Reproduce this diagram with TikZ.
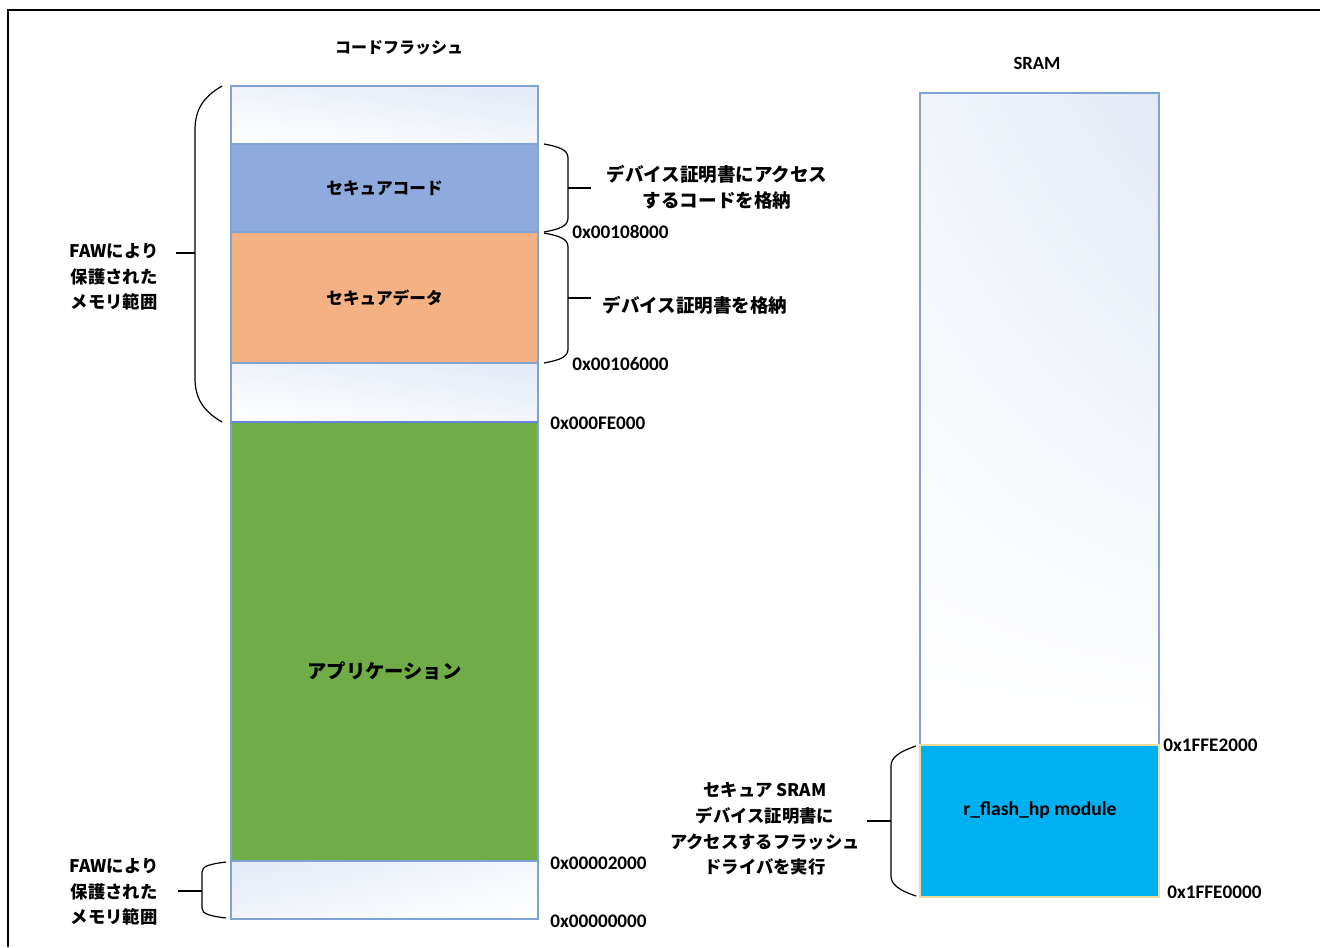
\documentclass[tikz,border=0pt]{standalone}
\usepackage{fontspec}
\usetikzlibrary{shadings}
\setmainfont{Carlito}
\newfontfamily\jp{Noto Sans CJK JP}
\definecolor{segb}{HTML}{7FA3D3}
\definecolor{shd}{HTML}{E3EAF6}
\definecolor{cblue}{HTML}{8FAADC}
\definecolor{corange}{HTML}{F4B183}
\definecolor{cgreen}{HTML}{70AD47}
\definecolor{ccyan}{HTML}{00B0F0}
\definecolor{cyb}{HTML}{EEDC9A}
\begin{document}
\begin{tikzpicture}[x=0.75pt,y=-0.75pt,
  seg/.style={draw=segb, line width=0.8pt},
  wseg/.style={upper left=shd!60!white, upper right=shd, lower left=white, lower right=shd!45!white},
  lbl/.style={font=\jp\bfseries\fontsize{13}{19.2}\selectfont, align=center, inner sep=0pt},
  rlbl/.style={font=\jp\bfseries\fontsize{13.9}{19.2}\selectfont, align=center, inner sep=0pt},
  boxlbl/.style={font=\jp\bfseries\fontsize{12.5}{15}\selectfont, inner sep=0pt},
  addr/.style={font=\bfseries\fontsize{14.4}{16}\selectfont, anchor=west, inner sep=0pt},
  brc/.style={line width=0.9pt, black},
  tick/.style={line width=0.9pt, black}]
\useasboundingbox (0,0) rectangle (1320,947);
\draw[line width=1.6pt] (8,947) -- (8,10) -- (1320,10);

% titles
\node[boxlbl, font=\jp\bfseries\fontsize{12}{14}\selectfont] (t1) at (399,48) {コードフラッシュ};
\node[font=\bfseries\fontsize{14}{16}\selectfont, inner sep=0pt] (t2) at (1037,63) {SRAM};

% flash column
\shade[wseg] (231,86) rectangle (538,144);
\draw[seg] (231,86) rectangle (538,144);
\filldraw[seg, fill=cblue] (231,144) rectangle (538,232);
\filldraw[seg, fill=corange] (231,232) rectangle (538,363);
\shade[wseg] (231,363) rectangle (538,422);
\draw[seg] (231,363) rectangle (538,422);
\filldraw[seg, fill=cgreen] (231,422) rectangle (538,861);
\draw[segb!80!blue, line width=1.2pt] (231,422) -- (538,422);
\shade[upper left=shd, upper right=shd!40!white, lower left=shd!50!white, lower right=white] (231,861) rectangle (538,919);
\draw[seg] (231,861) rectangle (538,919);

\node[boxlbl] (sc) at (384.5,188) {セキュアコード};
\node[boxlbl] (sd) at (384.5,298) {セキュアデータ};
\node[boxlbl, font=\jp\bfseries\fontsize{14.5}{16}\selectfont] (app) at (384.5,671) {アプリケーション};

% SRAM column
\shade[upper left=shd!50!white, upper right=shd, lower left=white, lower right=white] (920,93) rectangle (1159,745);
\draw[seg] (920,745) -- (920,93) -- (1159,93) -- (1159,745);
\filldraw[draw=cyb, line width=0.8pt, fill=ccyan] (920,745) rectangle (1159,897);
\node[font=\bfseries\fontsize{14.7}{16}\selectfont, inner sep=0pt] (mod) at (1040,810) {r\_flash\_hp module};

% addresses
\node[addr] (a1) at (572,232) {0x00108000};
\node[addr] (a2) at (572,364) {0x00106000};
\node[addr] (a3) at (550,423) {0x000FE000};
\node[addr] (a4) at (550,863) {0x00002000};
\node[addr] (a5) at (550,921) {0x00000000};
\node[addr] (a6) at (1163,745) {0x1FFE2000};
\node[addr] (a7) at (1167,892) {0x1FFE0000};

% big left brace
\draw[brc] (222,86) .. controls (203,97) and (195,110) .. (195,130) -- (195,378) .. controls (195,398) and (203,411) .. (222,422);
\coordinate (b1) at (195,253);
\node[lbl, anchor=north] (l1) at (114,243) {{\bfseries FAW}により\\保護された\\メモリ範囲};
\draw[tick] (b1) -- (176,253);

% upper right brace
\draw[brc] (544,144) .. controls (560,147) and (568,150) .. (568,158) -- (568,218) .. controls (568,226) and (560,229) .. (544,232);
\coordinate (b2) at (568,188);
\node[rlbl] (l2) at (717,187) {デバイス証明書にアクセス\\するコードを格納};
\draw[tick] (b2) -- (591,188);

% second right brace
\draw[brc] (544,233) .. controls (560,236) and (568,239) .. (568,247) -- (568,349) .. controls (568,357) and (560,360) .. (544,363);
\coordinate (b3) at (568,298);
\node[rlbl] (l3) at (695,305) {デバイス証明書を格納};
\draw[tick] (b3) -- (591,298);

% bottom left brace
\draw[brc] (226,862) .. controls (210,864) and (202,866) .. (202,872) -- (202,908) .. controls (202,914) and (210,916) .. (226,918);
\coordinate (b4) at (202,891);
\node[lbl, anchor=north] (l4) at (114,858) {{\bfseries FAW}により\\保護された\\メモリ範囲};
\draw[tick] (b4) -- (178,891);

% SRAM brace
\draw[brc] (916,746) .. controls (898,752) and (891,758) .. (891,766) -- (891,876) .. controls (891,884) and (898,890) .. (916,896);
\coordinate (b5) at (891,821);
\node[lbl] (l5) at (765,829) {セキュア {\bfseries SRAM}\\デバイス証明書に\\アクセスするフラッシュ\\ドライバを実行};
\draw[tick] (b5) -- (867,821);
\end{tikzpicture}
\end{document}
